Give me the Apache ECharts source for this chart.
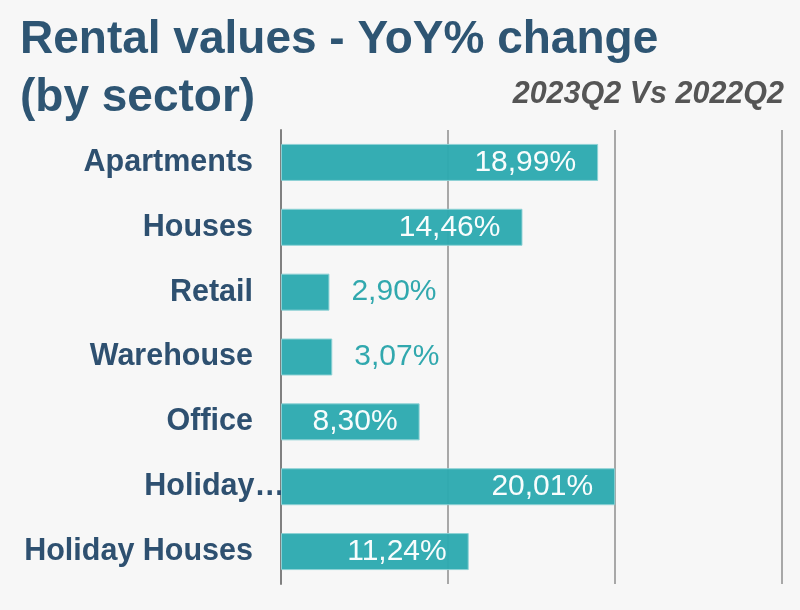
<!DOCTYPE html>
<html><head><meta charset="utf-8">
<script src="https://cdn.jsdelivr.net/npm/echarts@6/dist/echarts.min.js"></script>
<style>html,body{margin:0;padding:0;background:#f7f7f7;}#c{width:800px;height:610px;}</style>
</head><body><div id="c"></div>
<script>
const categories = ["Apartments","Houses","Retail","Warehouse","Office","Holiday Apartments","Holiday Houses"];
const values = [18.99,14.46,2.90,3.07,8.30,20.01,11.24];
const axisTicks = [0,10,20,30];
const insideThreshold = 5;

const FONT = 'Liberation Sans, Arial, sans-serif';
const chart = echarts.init(document.getElementById('c'));
const fmt = v => v.toFixed(2).replace('.', ',') + '%';
chart.setOption({
  backgroundColor:'#f7f7f7',
  animation:false,
  title:[{
    text:'Rental values - YoY% change\n(by sector)',
    left:15, top:6,
    textStyle:{fontFamily:FONT, fontWeight:'bold', fontSize:46, color:'#2e5573', lineHeight:58}
  },{
    text:'2023Q2 Vs 2022Q2',
    right:11, top:75,
    textStyle:{fontFamily:FONT, fontWeight:'bold', fontStyle:'italic', fontSize:30.5, color:'#555555'}
  }],
  grid:{left:281, right:18, top:130, bottom:26, containLabel:false},
  xAxis:{type:'value', min:axisTicks[0], max:axisTicks[axisTicks.length-1], interval:10,
    axisLabel:{show:false}, axisTick:{show:false}, axisLine:{show:false},
    splitLine:{show:true, lineStyle:{color:'#a8a8a8', width:2}}},
  yAxis:{type:'category', inverse:true,
    data: categories.map(c => c === 'Holiday Apartments'
      ? {value:c, textStyle:{padding:[4,-32,0,0]}} : c),
    axisTick:{show:false},
    axisLine:{show:true, lineStyle:{color:'#808080', width:2}},
    axisLabel:{margin:28, fontFamily:FONT, fontWeight:'bold', fontSize:30.5, color:'#2e5070', padding:[4,0,0,0],
      formatter: v => v === 'Holiday Apartments' ? 'Holiday…' : v}},
  series:[{
    type:'bar', barWidth:37,
    data: values.map(v => ({value:v, label:{
      position: v > insideThreshold ? 'insideRight' : 'right',
      distance: 22,
      color: v > insideThreshold ? '#ffffff' : '#2aa5ab'}})),
    itemStyle:{color:'#2eaab1', borderColor:'#8dd2d5', borderWidth:1, opacity:0.97},
    label:{show:true, fontFamily:FONT, fontSize:30, padding:[5,0,0,0], formatter:p => fmt(p.value)}
  }]
});
</script></body></html>
